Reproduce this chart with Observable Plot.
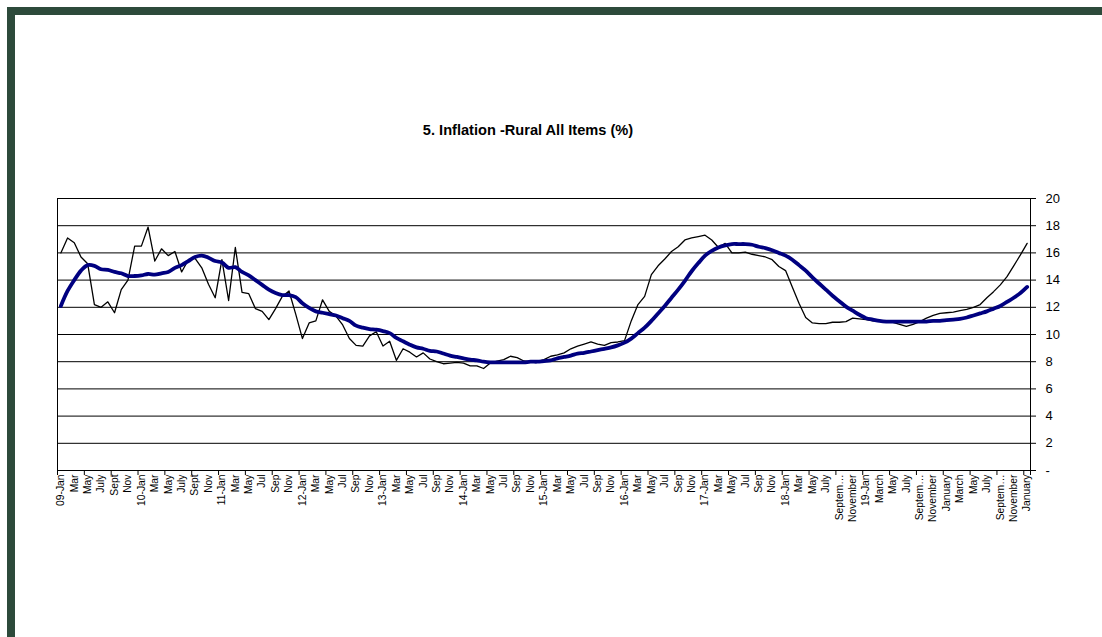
<!DOCTYPE html>
<html>
<head>
<meta charset="utf-8">
<script src="https://cdn.jsdelivr.net/npm/d3@7"></script>
<script src="https://cdn.jsdelivr.net/npm/@observablehq/plot@0.6"></script>
<style>
  body { margin: 0; background: #fff; font-family: "Liberation Sans", Arial, sans-serif; }
  #wrap { position: relative; width: 1102px; height: 637px; overflow: hidden; background: #fff; }
  #frameTop { position: absolute; left: 7px; top: 7px; width: 1095px; height: 8px; background: #2d4a3b; }
  #frameLeft { position: absolute; left: 7px; top: 7px; width: 8px; height: 630px; background: #2d4a3b; }
  #title { position: absolute; left: 0; top: 122px; width: 1056px; text-align: center; font-weight: bold; font-size: 14.6px; line-height: 17px; color: #000; }
  #chart { position: absolute; left: 0; top: 0; }
</style>
</head>
<body>
<div id="wrap">
  <div id="chart"></div>
  <div id="frameTop"></div>
  <div id="frameLeft"></div>
  <div id="title">5. Inflation -Rural All Items (%)</div>
</div>
<script>
// Category tick labels (every second month, Jan 2009 – Jan 2021)
const monthLabels = [
  "09-Jan","Mar","May","July","Sept","Nov",
  "10-Jan","Mar","May","July","Sept","Nov",
  "11-Jan","Mar","May","Jul","Sep","Nov",
  "12-Jan","Mar","May","Jul","Sep","Nov",
  "13-Jan","Mar","May","Jul","Sep","Nov",
  "14-Jan","Mar","May","Jul","Sep","Nov",
  "15-Jan","Mar","May","Jul","Sep","Nov",
  "16-Jan","Mar","May","Jul","Sep","Nov",
  "17-Jan","Mar","May","Jul","Sep","Nov",
  "18-Jan","Mar","May","July","Septem\u2026","November",
  "19-Jan","March","May","July","Septem\u2026","November",
  "January","March","May","July","Septem\u2026","November",
  "January"
];

// Monthly rural all-items inflation (%)
const actual = [
  16.0,17.1,16.75,15.7,15.2,12.2,12.0,12.4,11.6,13.3,14.0,16.5,
  16.5,17.9,15.4,16.3,15.8,16.1,14.6,15.5,15.6,14.9,13.7,12.7,
  15.5,12.5,16.4,13.1,13.0,11.9,11.7,11.1,11.9,12.8,13.2,11.5,
  9.7,10.85,11.0,12.55,11.7,11.35,10.7,9.7,9.2,9.15,9.9,10.2,
  9.15,9.5,8.1,8.95,8.7,8.35,8.65,8.2,8.0,7.85,7.9,7.95,
  7.9,7.7,7.7,7.5,7.9,8.05,8.15,8.4,8.3,8.05,8.0,8.0,
  8.15,8.4,8.5,8.65,8.95,9.15,9.3,9.45,9.3,9.2,9.4,9.45,
  9.55,11.0,12.2,12.8,14.4,15.05,15.55,16.1,16.45,16.95,17.1,17.2,
  17.3,16.95,16.4,16.7,16.0,16.0,16.05,15.9,15.8,15.7,15.5,15.0,
  14.7,13.5,12.3,11.25,10.85,10.8,10.8,10.9,10.9,10.95,11.2,11.15,
  11.1,11.0,11.0,11.0,10.9,10.75,10.6,10.75,10.95,11.2,11.4,11.55,
  11.6,11.65,11.75,11.85,12.0,12.2,12.7,13.15,13.65,14.25,15.05,15.85,
  16.7
];

// Smoothed trend (%)
const trend = [
  12.1,13.2,14.0,14.7,15.1,15.05,14.8,14.75,14.6,14.5,14.3,14.3,
  14.35,14.45,14.4,14.5,14.6,14.9,15.1,15.4,15.7,15.8,15.65,15.4,
  15.3,14.9,14.95,14.6,14.35,14.0,13.65,13.3,13.05,12.9,12.9,12.75,
  12.3,11.95,11.7,11.6,11.5,11.4,11.2,11.0,10.65,10.5,10.4,10.35,
  10.25,10.1,9.75,9.5,9.25,9.05,8.95,8.8,8.75,8.6,8.45,8.35,
  8.25,8.15,8.1,8.0,7.95,7.95,7.95,7.95,7.95,7.95,8.0,8.0,
  8.05,8.1,8.25,8.35,8.45,8.6,8.65,8.75,8.85,8.95,9.05,9.2,
  9.4,9.7,10.1,10.5,11.0,11.55,12.1,12.7,13.3,13.95,14.65,15.25,
  15.8,16.15,16.4,16.55,16.65,16.65,16.65,16.6,16.45,16.35,16.2,16.0,
  15.8,15.5,15.1,14.7,14.2,13.75,13.3,12.85,12.45,12.05,11.75,11.45,
  11.2,11.1,11.0,10.95,10.95,10.95,10.95,10.95,10.95,10.95,11.0,11.0,
  11.05,11.1,11.15,11.25,11.4,11.55,11.7,11.9,12.1,12.4,12.7,13.05,
  13.5
];

const yTicks = [0,2,4,6,8,10,12,14,16,18,20];

const n = actual.length;
const actualRows = actual.map((v, i) => ({i, v}));
const trendRows = trend.map((v, i) => ({i, v}));
const labelIdx = monthLabels.map((_, k) => k * 2);
const tickIdx = d3.range(0, n + 1, 4).map(k => k - 0.5).concat([n - 0.5]);

const chart = Plot.plot({
  width: 1102,
  height: 637,
  marginTop: 198,
  marginRight: 72,
  marginBottom: 167,
  marginLeft: 57,
  style: { fontFamily: "'Liberation Sans', Arial, sans-serif", background: "transparent", color: "#000" },
  x: { type: "linear", domain: [-0.5, n - 0.5] },
  y: { domain: [0, 20] },
  marks: [
    Plot.ruleY(yTicks.filter(v => v > 0), { stroke: "#000", strokeWidth: 1 }),
    Plot.frame({ stroke: "#000", strokeWidth: 1 }),
    Plot.line(actualRows, { x: "i", y: "v", stroke: "#000", strokeWidth: 1.3 }),
    Plot.line(trendRows, { x: "i", y: "v", stroke: "#000080", strokeWidth: 3.8, strokeLinejoin: "round", curve: "catmull-rom" }),
    Plot.axisY({
      anchor: "right", ticks: yTicks, tickSize: 5, tickPadding: 10,
      tickFormat: d => d === 0 ? "-" : String(d),
      fontSize: 13, label: null, textAnchor: "start", strokeOpacity: 1
    }),
    Plot.axisX({
      ticks: labelIdx, tickSize: 0, tickPadding: 4, tickRotate: -90,
      tickFormat: d => monthLabels[d / 2], fontSize: 10.3, label: null
    }),
    Plot.axisX({
      ticks: tickIdx, tickSize: 5, tickFormat: () => "", label: null, strokeOpacity: 1
    })
  ]
});
document.getElementById("chart").appendChild(chart);
</script>
</body>
</html>
